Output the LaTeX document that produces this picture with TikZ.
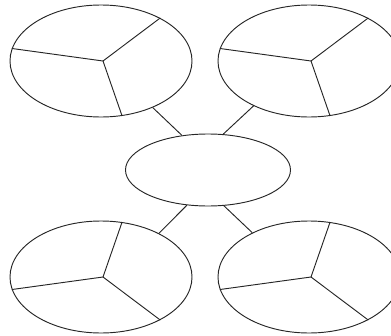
\documentclass[tikz,border=0pt]{standalone}
\usepackage{tikz}
\usetikzlibrary{shapes.geometric}

\begin{document}
\begin{tikzpicture}[
  x=0.03cm, y=-0.03cm,
  bubble/.style={ellipse, draw, inner sep=0pt, minimum width=5.46cm, minimum height=3.36cm},
  hubnode/.style={ellipse, draw, inner sep=0pt, minimum width=4.95cm, minimum height=2.16cm},
  line width=0.8pt, draw=black!85
]
\clip (0,0) rectangle (391,335);

\node[hubnode] (mid) at (208,170) {};
\node[bubble] (tl) at (101,61) {};
\node[bubble] (tr) at (309,61) {};
\node[bubble] (bl) at (101,277) {};
\node[bubble] (br) at (309,277) {};

% spokes
\coordinate (tlhub) at ([xshift=0.06cm]tl.center);
\coordinate (trhub) at ([xshift=0.06cm]tr.center);
\coordinate (blhub) at ([xshift=0.06cm]bl.center);
\coordinate (brhub) at ([xshift=0.06cm]br.center);
\draw (tlhub) -- (tl.36) (tlhub) -- (tl.172) (tlhub) -- (tl.-69);
\draw (trhub) -- (tr.36) (trhub) -- (tr.172) (trhub) -- (tr.-69);
\draw (blhub) -- (bl.69) (blhub) -- (bl.-172) (blhub) -- (bl.-36);
\draw (brhub) -- (br.69) (brhub) -- (br.-172) (brhub) -- (br.-36);

\draw (mid.127) -- (tl.-42);
\draw (mid.67) -- (tr.-141);
\draw (mid.-121) -- (bl.37);
\draw (mid.-66) -- (br.142);
\end{tikzpicture}
\end{document}
